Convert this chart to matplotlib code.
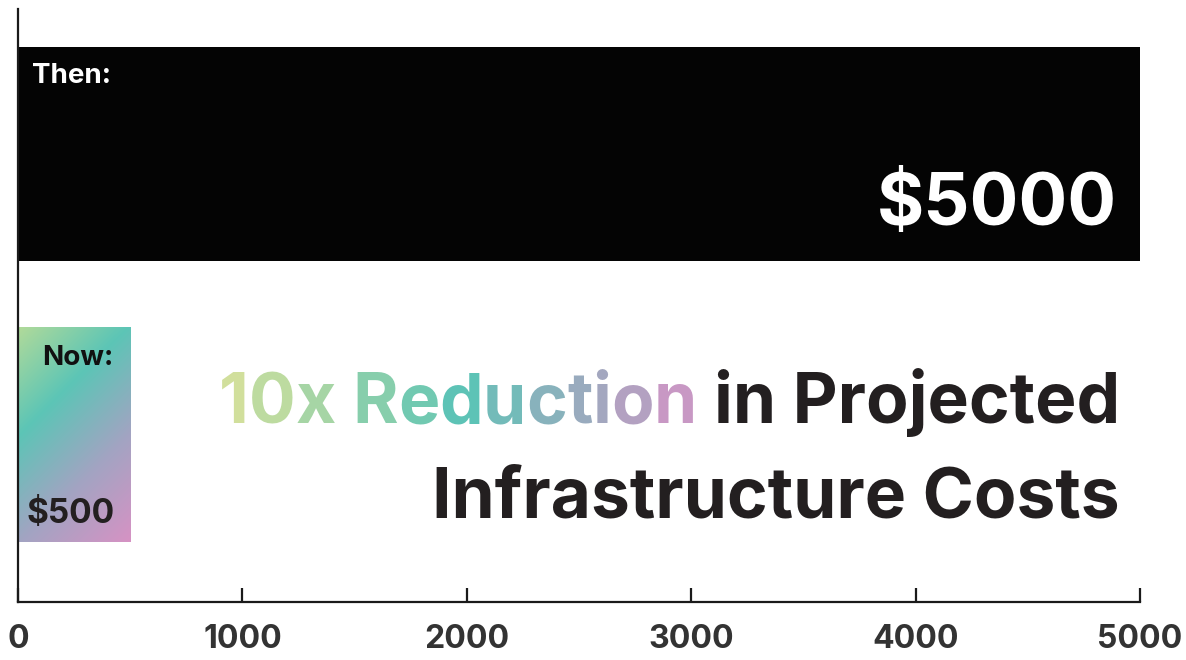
import numpy as np
import matplotlib
matplotlib.use("Agg")
import matplotlib.pyplot as plt
from matplotlib.colors import LinearSegmentedColormap
from matplotlib.font_manager import FontProperties

# ---- data ----
categories = ["Then", "Now"]
costs = [5000, 500]
value_labels = ["$5000", "$500"]
xticks = [0, 1000, 2000, 3000, 4000, 5000]
title_grad = "10x Reduction"
title_rest = " in Projected"
title_line2 = "Infrastructure Costs"

W, H, DPI = 1186, 660, 100
FONT = ["Inter", "DejaVu Sans"]
plt.rcParams["font.family"] = FONT

fig = plt.figure(figsize=(W / DPI, H / DPI), dpi=DPI)
ax = fig.add_axes([18 / W, 58 / H, (1140 - 18) / W, (651 - 58) / H])

ypos = np.arange(len(categories))
bar_h = 0.765
bars = ax.barh(ypos, costs, height=bar_h, color=["#040404", "none"], edgecolor="none")

# gradient fill for the "Now" bar
bar_cmap = LinearSegmentedColormap.from_list(
    "barg", [(0, "#b0da9a"), (0.33, "#5cc5b6"), (0.66, "#a2a4c2"), (1, "#d792c4")])
ny, nx = 215, 112
yy, xx = np.mgrid[0:ny, 0:nx]
tgrid = (xx + yy) / (nx + ny)
nb = bars[1]
x0, yc = 0, ypos[1]
ax.imshow(bar_cmap(tgrid), extent=(x0, costs[1], yc + bar_h / 2, yc - bar_h / 2),
          origin="upper", aspect="auto", interpolation="bilinear", clip_path=nb, zorder=1)

ax.set_xlim(0, 5000)
ax.set_ylim(1.597, -0.517)
ax.set_yticks([])
for s in ["top", "right"]:
    ax.spines[s].set_visible(False)
for s in ["left", "bottom"]:
    ax.spines[s].set_linewidth(1.6)
    ax.spines[s].set_color("#1a1a1a")
ax.set_xticks(xticks)
ax.set_xticklabels([str(v) for v in xticks], fontweight="bold")
ax.tick_params(axis="x", direction="in", length=10, width=1.6, color="#1a1a1a",
               labelsize=23, labelcolor="#333333", pad=16)

# bar labels
ax.annotate(categories[0] + ":", xy=(0, ypos[0] - bar_h / 2), xytext=(14, -36),
            textcoords="offset pixels", ha="left", va="baseline",
            fontsize=20, fontweight="bold", color="white")
ax.annotate(value_labels[0], xy=(costs[0], ypos[0] + bar_h / 2), xytext=(-23, 36),
            textcoords="offset pixels", ha="right", va="baseline",
            fontsize=52, fontweight="bold", color="white")
ax.annotate(categories[1] + ":", xy=(costs[1], ypos[1] - bar_h / 2), xytext=(-17, -38),
            textcoords="offset pixels", ha="right", va="baseline",
            fontsize=20, fontweight="bold", color="#111111", zorder=3)
ax.annotate(value_labels[1], xy=(costs[1], ypos[1] + bar_h / 2), xytext=(-16, 19),
            textcoords="offset pixels", ha="right", va="baseline",
            fontsize=24, fontweight="bold", color="#231f20", zorder=3)

# title with gradient on first words
fig.canvas.draw()
renderer = fig.canvas.get_renderer()
fp = FontProperties(family=FONT, weight="bold", size=50)


def text_w(s):
    w, h, d = renderer.get_text_width_height_descent(s, fp, ismath=False)
    return w


title_cmap = LinearSegmentedColormap.from_list(
    "titleg", [(0, "#d8e19a"), (0.5, "#5cc4b6"), (1, "#d294c5")])
right_px = 1120
base1 = H - 423
base2 = H - 518
line1 = title_grad + title_rest
left = right_px - text_w(line1)
gw = text_w(title_grad)
for i, ch in enumerate(title_grad):
    if ch == " ":
        continue
    xr = left + text_w(line1[:i + 1])
    t = (xr - text_w(ch) / 2 - left) / gw
    fig.text(xr / W, base1 / H, ch, ha="right", va="baseline", fontproperties=fp,
             color=title_cmap(min(max(t, 0), 1)))
fig.text(right_px / W, base1 / H, title_rest.strip(), ha="right", va="baseline",
         fontproperties=fp, color="#231f20")
fig.text(right_px / W, base2 / H, title_line2, ha="right", va="baseline",
         fontproperties=fp, color="#231f20")

fig.savefig("out.png", dpi=DPI)
